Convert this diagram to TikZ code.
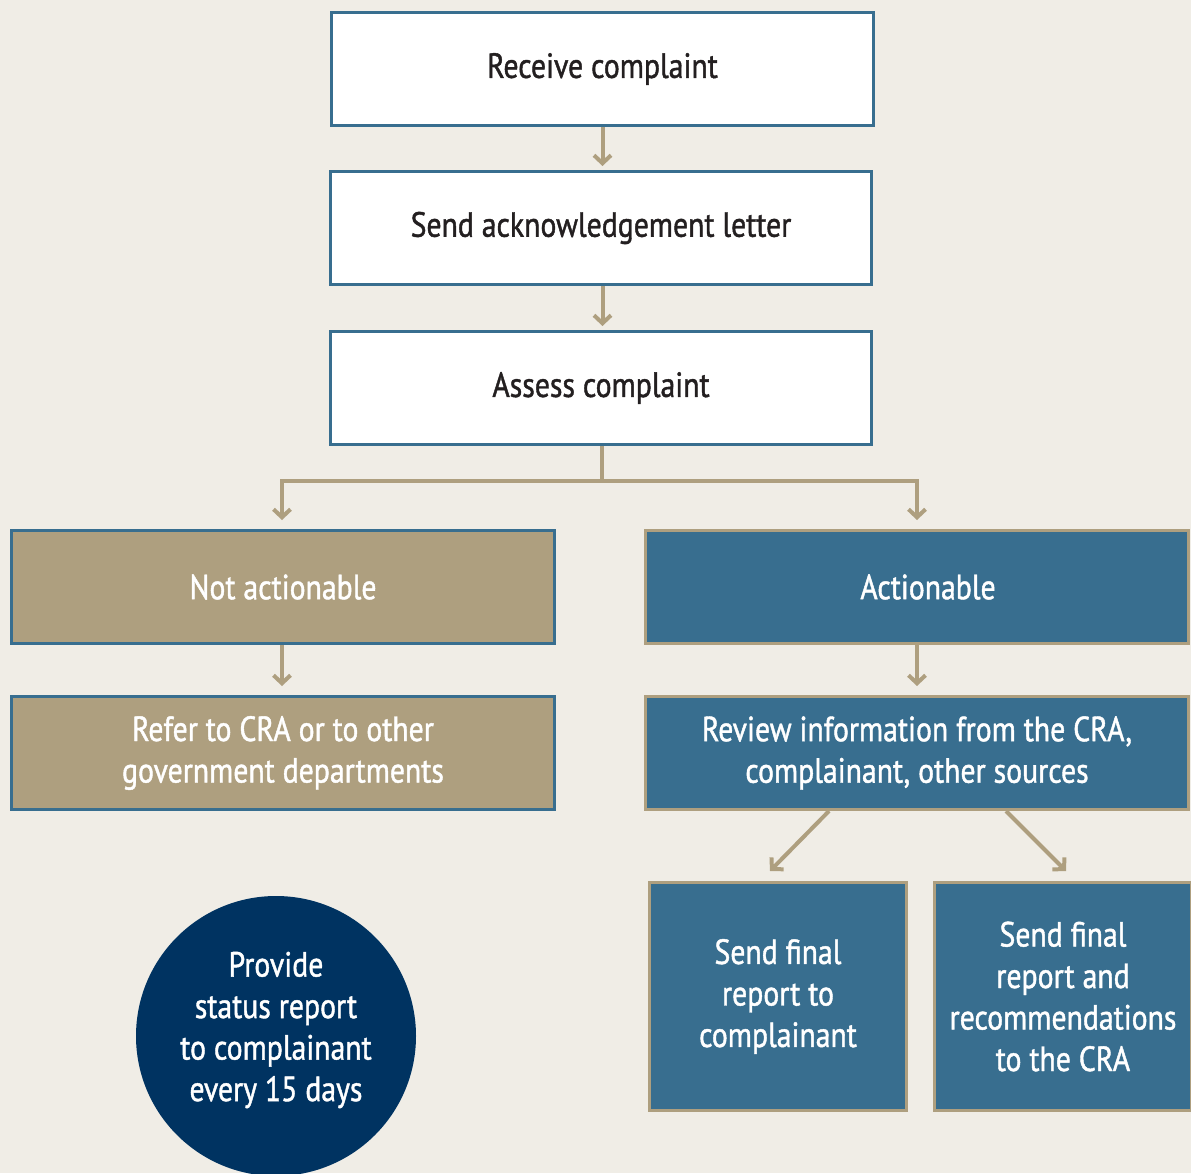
\documentclass[tikz,border=0pt]{standalone}
\usepackage{fontspec}
\setmainfont{PT Sans}[FakeStretch=0.8]
\newfontfamily\labelfont{PT Sans}[FakeStretch=0.85, FakeBold=1.2]
\usetikzlibrary{arrows.meta,shapes.geometric}
\definecolor{bg}{HTML}{F0EDE6}
\definecolor{tan}{HTML}{AE9F7F}
\definecolor{steel}{HTML}{386E8F}
\definecolor{navy}{HTML}{003361}
\definecolor{ink}{HTML}{231F20}
\tikzset{
  txt/.style={font=\labelfont\fontsize{35}{41.5}\selectfont, align=center},
  whitebox/.style={draw=steel, line width=3pt, fill=white, inner sep=0pt, minimum width=541pt, minimum height=113pt, text=ink, txt},
  tanbox/.style={draw=steel, line width=3pt, fill=tan, inner sep=0pt, minimum width=543pt, minimum height=113pt, text=white, txt},
  bluebox/.style={draw=tan, line width=3pt, fill=steel, inner sep=0pt, minimum width=543pt, minimum height=113pt, text=white, txt},
  finalbox/.style={bluebox, minimum width=257pt, minimum height=228pt},
  lbl/.style={text=white, txt, inner sep=0pt},
  conn/.style={draw=tan, line width=4pt},
  arr/.style={conn, -{Straight Barb[length=8pt 0 0, width=17pt 0 0]}},
}
\begin{document}
\begin{tikzpicture}[x=1pt,y=-1pt]
\useasboundingbox (0,0) rectangle (1191,1173);
\fill[bg] (0,0) rectangle (1191,1173);
\begin{scope}
\clip (0,0) rectangle (1191,1173);
\node[whitebox, minimum width=542pt] (receive) at (602.5,69) {Receive complaint};
\node[whitebox] (ack) at (601,228) {Send acknowledgement letter};
\node[whitebox] (assess) at (601,388) {Assess complaint};
\node[tanbox] (notact) at (283,587) {Not actionable};
\node[bluebox] (act) at (917,587) {};
\node[lbl] (actlbl) at (928,587) {Actionable};
\node[tanbox] (refer) at (283,753) {Refer to CRA or to other\\government departments};
\node[bluebox] (review) at (917,753) {Review information from the CRA,\\complainant, other sources};
\node[finalbox] (final1) at (778,996.5) {Send final\\report to\\complainant};
\node[finalbox] (final2) at (1063,996.5) {Send final\\report and\\recommendations\\to the CRA};
\node[circle, fill=navy, minimum size=280pt, inner sep=0pt] (status) at (276,1036) {};
\node[lbl] (statuslbl) at (276,1030) {Provide\\status report\\to complainant\\every 15 days};
\coordinate (fork) at (602,481);
\draw[arr, shorten >=4pt] (receive.south) -- (ack.north -| receive.south);
\draw[arr, shorten >=4pt] (ack.south -| receive.south) -- (assess.north -| receive.south);
\draw[conn] (assess.south -| fork) -- (fork);
\draw[arr, shorten >=9pt] (fork) -| ([shift={(-1,0)}]notact.north);
\draw[arr, shorten >=9pt] (fork) -| (act.north);
\draw[arr, shorten >=9pt] ([shift={(-1,0)}]notact.south) -- ([shift={(-1,0)}]refer.north);
\draw[arr, shorten >=9pt] (act.south) -- (review.north);
\draw[arr] ([shift={(-88,0)}]review.south) -- ([shift={(-8,-10)}]final1.north);
\draw[arr] ([shift={(89,0)}]review.south) -- ([shift={(3,-10)}]final2.north);
\end{scope}
\end{tikzpicture}
\end{document}
